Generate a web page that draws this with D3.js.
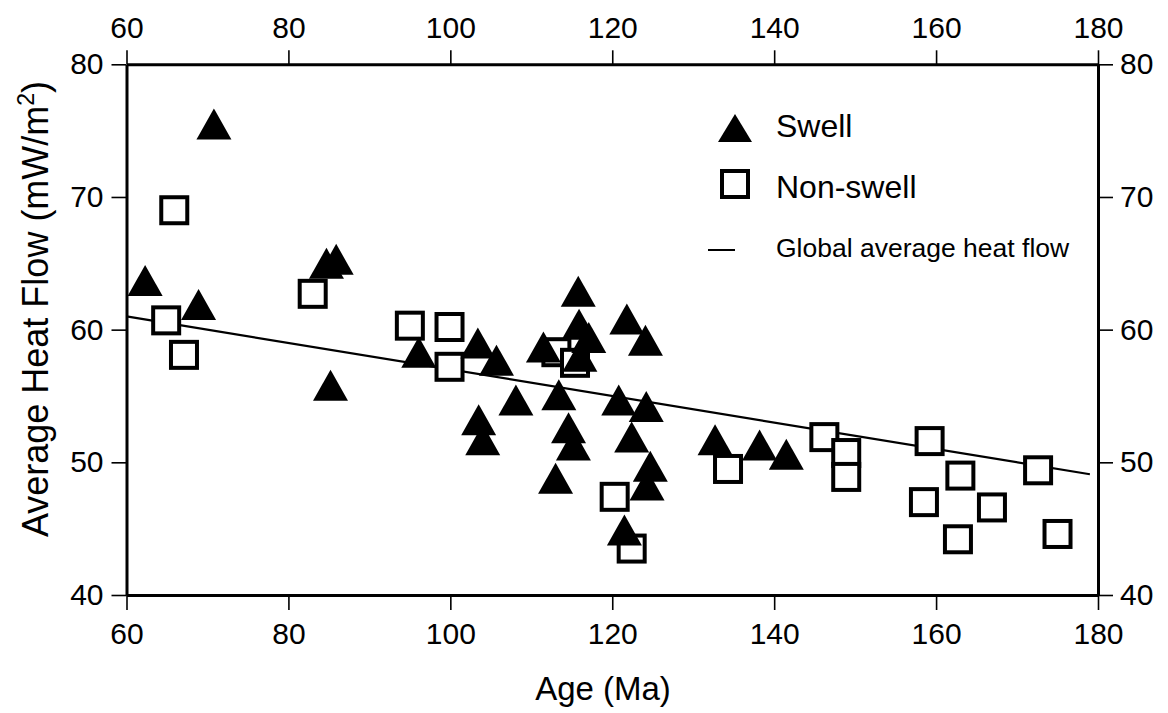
<!DOCTYPE html>
<html>
<head>
<meta charset="utf-8">
<script src="https://cdn.jsdelivr.net/npm/d3@7"></script>
<style>
  html, body { margin: 0; padding: 0; background: #fff; }
  svg { display: block; }
  text { font-family: "Liberation Sans", Arial, Helvetica, sans-serif; fill: #000; }
</style>
</head>
<body>
<svg id="chart" width="1168" height="713"></svg>
<script>
// Swell sites: crustal age (Ma) and average heat flow (mW/m²)
const swellAge  = [70.8, 62.3, 68.9, 84.7, 85.9, 85.2, 96.1, 103.4, 105.7, 108.1,
                   103.5, 104.0, 111.5, 115.8, 115.9, 117.1, 116.0, 121.8, 124.1, 113.4,
                   120.8, 124.2, 114.6, 115.2, 122.4, 113.0, 124.7, 124.3, 121.5, 132.7,
                   138.2, 141.5];
const swellFlow = [75.5, 63.7, 61.9, 65.0, 65.3, 55.8, 58.3, 59.0, 57.7, 54.7,
                   53.2, 51.7, 58.7, 62.9, 60.4, 59.4, 58.0, 60.8, 59.2, 55.1,
                   54.7, 54.2, 52.6, 51.3, 51.9, 48.8, 49.7, 48.3, 44.9, 51.7,
                   51.3, 50.6];

// Non-swell sites
const nonSwellAge  = [65.9, 64.9, 67.1, 83.0, 95.0, 99.9, 99.9, 113.1, 115.4, 120.3,
                      122.4, 134.3, 146.2, 148.9, 148.9, 159.2, 158.5, 163.0, 162.7, 166.9,
                      172.6, 175.0];
const nonSwellFlow = [69.0, 60.7, 58.1, 62.7, 60.3, 60.2, 57.2, 58.3, 57.5, 47.4,
                      43.5, 49.5, 51.9, 50.7, 48.9, 51.6, 47.0, 49.0, 44.2, 46.6,
                      49.4, 44.6];

// Global average heat flow reference line (end points)
const globalAge  = [60, 179];
const globalFlow = [61.0, 49.1];

const xTicks = [60, 80, 100, 120, 140, 160, 180];
const yTicks = [40, 50, 60, 70, 80];

const legendItems = ["Swell", "Non-swell", "Global average heat flow"];

const svg = d3.select("#chart");
const margin = { left: 126.5, right: 70, top: 64.3, bottom: 118 };
const W = 1168, H = 713;

const x = d3.scaleLinear().domain([60, 180]).range([margin.left, W - margin.right]);
const y = d3.scaleLinear().domain([40, 80]).range([H - margin.bottom, margin.top]);

const swell = swellAge.map((a, i) => ({ age: a, flow: swellFlow[i] }));
const nonSwell = nonSwellAge.map((a, i) => ({ age: a, flow: nonSwellFlow[i] }));

// marker geometry
const TRI_W = 35, TRI_H = 31, SQ = 26;
const triPath = (cx, cy, w = TRI_W, h = TRI_H) =>
  `M${cx},${cy - h / 2}L${cx + w / 2},${cy + h / 2}L${cx - w / 2},${cy + h / 2}Z`;

// global average line
svg.append("line")
  .attr("x1", x(globalAge[0])).attr("y1", y(globalFlow[0]))
  .attr("x2", x(globalAge[1])).attr("y2", y(globalFlow[1]))
  .attr("stroke", "#000").attr("stroke-width", 2.2);

// non-swell squares
svg.append("g").selectAll("rect").data(nonSwell).join("rect")
  .attr("x", d => x(d.age) - SQ / 2).attr("y", d => y(d.flow) - SQ / 2)
  .attr("width", SQ).attr("height", SQ)
  .attr("fill", "#fff").attr("stroke", "#000").attr("stroke-width", 4);

// swell triangles
svg.append("g").selectAll("path").data(swell).join("path")
  .attr("d", d => triPath(x(d.age), y(d.flow)))
  .attr("fill", "#000");

// axes on all four sides
function styleAxis(g) {
  g.select(".domain").attr("stroke", "#000").attr("stroke-width", 3).attr("fill", "none");
  g.selectAll(".tick line").attr("stroke", "#000").attr("stroke-width", 1.6);
  g.selectAll(".tick text").attr("font-size", 30)
    .attr("font-family", '"Liberation Sans", Arial, sans-serif').attr("fill", "#000");
}
svg.append("g").attr("transform", `translate(0,${y(40)})`)
  .call(d3.axisBottom(x).tickValues(xTicks).tickSize(15).tickSizeOuter(0).tickPadding(13))
  .call(styleAxis);
svg.append("g").attr("transform", `translate(0,${y(80)})`)
  .call(d3.axisTop(x).tickValues(xTicks).tickSize(14).tickSizeOuter(0).tickPadding(12))
  .call(styleAxis);
svg.append("g").attr("transform", `translate(${x(60)},0)`)
  .call(d3.axisLeft(y).tickValues(yTicks).tickSize(15).tickSizeOuter(0).tickPadding(8))
  .call(styleAxis);
svg.append("g").attr("transform", `translate(${x(180)},0)`)
  .call(d3.axisRight(y).tickValues(yTicks).tickSize(15).tickSizeOuter(0).tickPadding(7))
  .call(styleAxis);

// axis titles
svg.append("text")
  .attr("x", 603).attr("y", 700)
  .attr("text-anchor", "middle").attr("font-size", 33)
  .text("Age (Ma)");

const yTitle = svg.append("text")
  .attr("transform", "translate(48,309) rotate(-90)")
  .attr("text-anchor", "middle").attr("font-size", 36);
yTitle.append("tspan").text("Average Heat Flow (mW/m");
yTitle.append("tspan").attr("font-size", 23).attr("dy", -14).text("2");
yTitle.append("tspan").attr("dy", 14).text(")");

// legend
const lg = svg.append("g");
lg.append("path").attr("d", triPath(735, 128, 34, 28)).attr("fill", "#000");
lg.append("text").attr("x", 776).attr("y", 137).attr("font-size", 32).text(legendItems[0]);
lg.append("rect").attr("x", 735 - SQ / 2).attr("y", 184 - SQ / 2)
  .attr("width", SQ).attr("height", SQ)
  .attr("fill", "#fff").attr("stroke", "#000").attr("stroke-width", 4);
lg.append("text").attr("x", 776).attr("y", 198).attr("font-size", 32).text(legendItems[1]);
lg.append("line").attr("x1", 708).attr("x2", 735).attr("y1", 250).attr("y2", 250)
  .attr("stroke", "#000").attr("stroke-width", 2);
lg.append("text").attr("x", 776).attr("y", 257).attr("font-size", 26.5).text(legendItems[2]);
</script>
</body>
</html>
